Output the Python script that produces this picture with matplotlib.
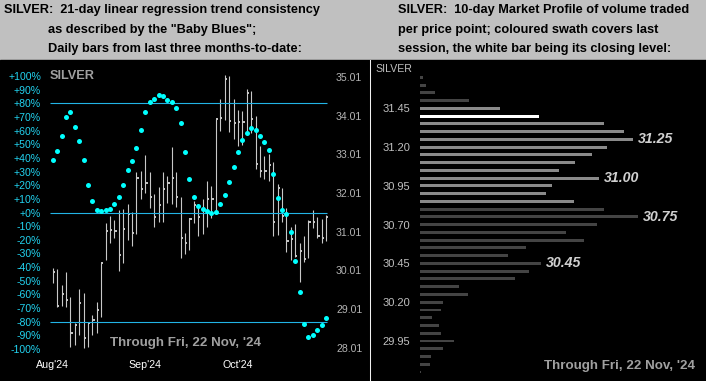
import matplotlib
matplotlib.use("Agg")
import matplotlib.pyplot as plt
from matplotlib.lines import Line2D
from matplotlib.patches import Rectangle

# ---- left panel: daily bars (price) and "Baby Blues" (trend consistency %)
highs = [30.07, 30.04, 29.64, 29.97, 29.32, 28.65, 29.53, 29.42, 28.66, 28.86,
         29.19, 30.21, 31.23, 31.43, 31.32, 31.56, 31.59, 31.73, 31.52, 32.55,
         32.59, 32.99, 32.55, 31.99, 32.16, 32.56, 32.45, 33.19, 32.55, 31.92,
         30.97, 31.36, 31.81, 31.70, 31.85, 32.33, 32.18, 33.92, 34.43, 35.06,
         35.04, 34.43, 34.16, 34.14, 34.69, 34.64, 34.00, 33.23, 32.97, 33.02,
         32.81, 32.25, 32.14, 31.62, 31.14, 31.21, 30.73, 30.89, 31.32, 31.57,
         31.40, 31.34, 31.45]
lows = [29.68, 29.06, 29.08, 29.06, 28.04, 28.09, 28.35, 28.01, 28.03, 28.35,
        28.39, 28.82, 30.28, 30.71, 30.84, 30.00, 30.20, 30.80, 30.65, 30.95,
        31.85, 32.02, 31.62, 31.14, 31.25, 31.25, 31.75, 31.73, 31.64, 30.33,
        30.43, 30.54, 31.23, 30.91, 30.94, 31.14, 31.36, 31.49, 33.62, 33.90,
        33.60, 33.40, 33.23, 33.25, 33.56, 33.56, 32.63, 32.43, 32.38, 32.33,
        30.91, 30.93, 31.27, 30.50, 30.27, 30.37, 29.72, 30.24, 30.33, 31.10,
        30.84, 30.71, 30.78]
closes = [29.97, 29.10, 29.41, 29.25, 28.39, 28.60, 29.16, 28.26, 28.66, 28.73,
          28.99, 30.20, 31.04, 31.06, 31.04, 30.40, 31.09, 31.47, 30.99, 32.41,
          32.11, 32.28, 31.90, 31.40, 31.69, 32.11, 32.28, 32.41, 31.92, 30.86,
          30.71, 31.34, 31.70, 31.38, 31.57, 31.86, 31.85, 33.92, 33.96, 34.96,
          33.86, 33.83, 33.84, 33.84, 34.60, 33.92, 32.76, 32.58, 32.58, 32.74,
          31.27, 32.14, 31.43, 30.76, 30.82, 30.39, 30.52, 30.31, 31.26, 31.27,
          30.91, 30.86, 31.39]
blues = [38.8, 45.4, 56.4, 70.3, 73.3, 62.3, 52.7, 38.3, 20.5, 8.8,
         2.2, 1.0, 1.7, 2.9, 6.6, 11.7, 20.5, 31.0, 37.4, 46.9,
         60.8, 73.3, 80.6, 83.5, 86.4, 85.0, 82.1, 81.3, 76.9, 65.4,
         44.0, 24.9, 11.7, 5.1, 2.4, 1.2, 0.0, 0.7, 6.1, 12.7,
         22.0, 33.0, 44.2, 53.0, 58.1, 61.8, 60.8, 55.9, 51.5, 45.6,
         28.1, 10.5, 1.7, -1.2, -14.4, -35.7, -58.4, -81.8, -91.4, -89.9,
         -86.2, -82.6, -77.4]
month_pos = [0, 21, 42]
month_labels = ["Aug'24", "Sep'24", "Oct'24"]
pct_ticks = list(range(-100, 101, 10))
price_ticks = [28.01, 29.01, 30.01, 31.01, 32.01, 33.01, 34.01, 35.01]

# ---- right panel: 10-day market profile
pm_levels = [31.65, 31.60, 31.55, 31.50, 31.45, 31.40, 31.35, 31.30, 31.25, 31.20,
             31.15, 31.10, 31.05, 31.00, 30.95, 30.90, 30.85, 30.80, 30.75, 30.70,
             30.65, 30.60, 30.55, 30.50, 30.45, 30.40, 30.35, 30.30, 30.25, 30.20,
             30.15, 30.10, 30.05, 30.00, 29.95, 29.90, 29.85, 29.80, 29.75]
pm_volume = [3, 6, 15, 49, 80, 119, 184, 204, 213, 187,
             172, 155, 139, 179, 132, 126, 154, 184, 218, 177,
             146, 164, 106, 88, 121, 109, 95, 39, 48, 23,
             21, 12, 19, 21, 34, 23, 11, 10, 1]
session_high, session_low, session_close = 31.45, 30.85, 31.40
pm_peaks = [31.25, 31.00, 30.75, 30.45]
pm_ticks = [31.45, 31.20, 30.95, 30.70, 30.45, 30.20, 29.95]

W, H = 706, 381
fig = plt.figure(figsize=(W / 100, H / 100), dpi=100, facecolor="#c0c0c0")

def fx(px):
    return px / W

def fy(py):
    return 1 - py / H

# black panels + separator
fig.add_artist(Rectangle((0, 0), 1, fy(60), transform=fig.transFigure,
                         color="black", zorder=0))
fig.add_artist(Line2D([fx(369.5)] * 2, [0, fy(60)], transform=fig.transFigure,
                      color="#f0f0f0", lw=0.75))

hdr = dict(family="Liberation Sans", weight="bold",
           fontsize=9.2, color="black", va="center", ha="left")
fig.text(fx(4), fy(10), "SILVER:  21-day linear regression trend consistency", **hdr)
fig.text(fx(48), fy(30), 'as described by the "Baby Blues";', **hdr)
fig.text(fx(48), fy(49), "Daily bars from last three months-to-date:", **hdr)
fig.text(fx(398), fy(10), "SILVER:  10-day Market Profile of volume traded", **hdr)
fig.text(fx(398), fy(30), "per price point; coloured swath covers last", **hdr)
fig.text(fx(398), fy(49), "session, the white bar being its closing level:", **hdr)

# ---- left chart
x = list(range(len(closes)))
ax = fig.add_axes([fx(46), fy(356), fx(332 - 46), (356 - 70) / H])
ax.set_facecolor("none")
ax.set_xlim(-1.52, 63.33)
ax.set_ylim(-105.1, 104.4)
ax2 = ax.twinx()
ax2.set_ylim(27.80, 35.19)

line_c = "#22b4e6"
ax.hlines([80, 0, -80], -0.6, 62.2, color=line_c, lw=0.8, zorder=1)
ax2.vlines(x, lows, highs, color="#c8c8c8", lw=0.8, zorder=2)
ax2.hlines(closes, [i for i in x], [i + 0.5 for i in x], color="#c8c8c8", lw=1.4, zorder=2)
ax.set_zorder(ax2.get_zorder() + 1)
ax.plot(x, blues, "o", color="#00ffff", ms=3.6, mec="none", zorder=3)

for a in (ax, ax2):
    for s in a.spines.values():
        s.set_visible(False)
ax.set_yticks(pct_ticks, [f"{v:+d}%" for v in pct_ticks])
ax.tick_params(axis="y", length=0, pad=3.6, labelsize=7.6, labelcolor="#22d3f0")
ax.set_xticks(month_pos, month_labels)
ax.tick_params(axis="x", length=0, pad=2.8, labelsize=7.7, labelcolor="white")
ax2.set_yticks(price_ticks, [f"{v:.2f}" for v in price_ticks])
ax2.tick_params(axis="y", length=0, pad=2.9, labelsize=7.6, labelcolor="#b4b4b4")
for lab in ax.get_yticklabels() + ax.get_xticklabels() + ax2.get_yticklabels():
    lab.set_family("Liberation Sans")

fig.text(fx(50), fy(76), "SILVER", family="Liberation Sans", weight="bold",
         fontsize=9.2, color="#a0a0a0", va="center")
fig.text(fx(186), fy(343), "Through Fri, 22 Nov, '24", family="Liberation Sans",
         weight="bold", fontsize=9.6, color="#a0a0a0", va="center", ha="center")

# ---- right chart (market profile)
axr = fig.add_axes([fx(420), 0, fx(W - 420), fy(62)])
axr.set_facecolor("none")
axr.set_xlim(0, 286)
axr.set_ylim(29.692, 31.749)
colors = []
for lv in pm_levels:
    if abs(lv - session_close) < 1e-6:
        colors.append("white")
    elif session_low - 1e-6 <= lv <= session_high + 1e-6:
        colors.append("#8a8a8a")
    else:
        colors.append("#444444")
axr.barh(pm_levels, pm_volume, height=0.019, left=0, color=colors)
for lv in pm_peaks:
    v = pm_volume[pm_levels.index(lv)]
    axr.text(v + 5, lv, f"{lv:.2f}", family="Liberation Sans", weight="bold",
             style="italic", fontsize=10.2, color="#d0d0d0", va="center", ha="left")
for s in axr.spines.values():
    s.set_visible(False)
axr.set_xticks([])
axr.set_yticks(pm_ticks, [f"{v:.2f}" for v in pm_ticks])
axr.tick_params(axis="y", length=0, pad=7.2, labelsize=8, labelcolor="#c0c0c0")
for lab in axr.get_yticklabels():
    lab.set_family("Liberation Sans")
fig.text(fx(375), fy(69), "SILVER", family="Liberation Sans", fontsize=7.6,
         color="#c0c0c0", va="center")
fig.text(fx(620), fy(366), "Through Fri, 22 Nov, '24", family="Liberation Sans",
         weight="bold", fontsize=9.6, color="#a0a0a0", va="center", ha="center")

fig.savefig("out.png", dpi=100, facecolor=fig.get_facecolor())
